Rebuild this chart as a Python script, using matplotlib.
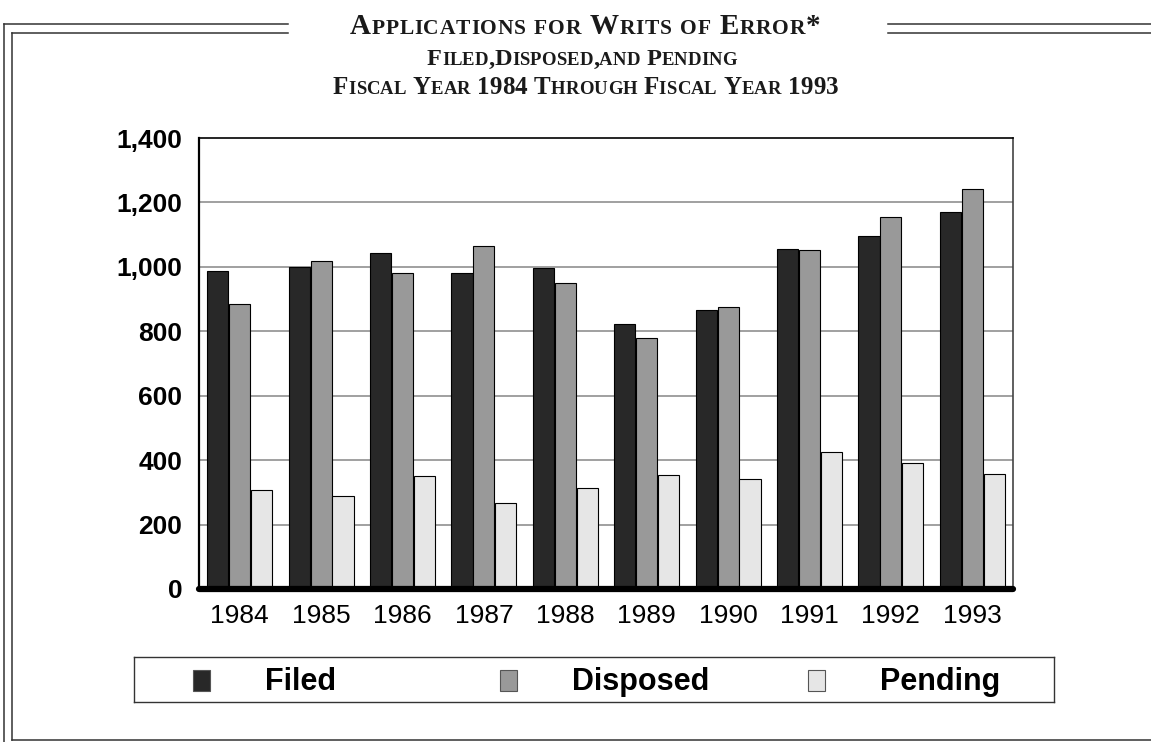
import matplotlib
matplotlib.use('Agg')
import matplotlib.pyplot as plt
import numpy as np
from matplotlib.patches import Rectangle
from matplotlib.lines import Line2D
from matplotlib import font_manager
from matplotlib.ft2font import FT2Font, LoadFlags

years = ['1984', '1985', '1986', '1987', '1988', '1989', '1990', '1991', '1992', '1993']
filed = [986, 999, 1043, 981, 997, 822, 866, 1056, 1096, 1171]
disposed = [884, 1018, 982, 1066, 950, 780, 876, 1053, 1155, 1241]
pending = [308, 288, 351, 267, 313, 353, 342, 424, 390, 356]
series_names = ['Filed', 'Disposed', 'Pending']
series_colors = ['#282828', '#999999', '#e6e6e6']
y_ticks = [0, 200, 400, 600, 800, 1000, 1200, 1400]

W, H = 1151, 742
DPI = 100
SANS = 'Liberation Sans'
SERIF = 'Liberation Serif'

serif_bold = FT2Font(font_manager.findfont(
    font_manager.FontProperties(family=SERIF, weight='bold')))


def fx(px):
    return px / W


def fy(py):
    return 1 - py / H


def advance(ch, size):
    serif_bold.set_size(size, DPI)
    g = serif_bold.load_char(ord(ch), flags=LoadFlags.NO_HINTING)
    return g.linearHoriAdvance / 65536


def smallcaps(fig, text, xc, ybase, big, small, target_w):
    # fake small caps, letter-spaced to the width of the original title line
    chars = []
    for ch in text:
        size = small if ch.islower() else big
        chars.append((ch.upper(), size, advance(ch.upper(), size)))
    natural = sum(a for _, _, a in chars)
    track = (target_w - natural) / (len(chars) - 1)
    x = xc - target_w / 2
    for ch, size, adv in chars:
        if ch != ' ':
            fig.text(fx(x), fy(ybase), ch, fontsize=size, fontweight='bold',
                     family=SERIF, va='baseline', ha='left', color='#1a1a1a')
        x += adv + track


fig = plt.figure(figsize=(W / DPI, H / DPI), dpi=DPI)

# double frame around the figure, broken by the title
frame = dict(color='#333333', lw=1.1, transform=fig.transFigure)
fig.add_artist(Line2D([fx(3.5), fx(3.5)], [fy(24.3), fy(742)], **frame))
fig.add_artist(Line2D([fx(3.5), fx(288)], [fy(24.3), fy(24.3)], **frame))
fig.add_artist(Line2D([fx(12.3), fx(12.3)], [fy(33.3), fy(740)], **frame))
fig.add_artist(Line2D([fx(12.3), fx(288)], [fy(33.3), fy(33.3)], **frame))
fig.add_artist(Line2D([fx(12.3), fx(1151)], [fy(740), fy(740)], **frame))
fig.add_artist(Line2D([fx(888), fx(1151)], [fy(24.3), fy(24.3)], **frame))
fig.add_artist(Line2D([fx(888), fx(1151)], [fy(33.3), fy(33.3)], **frame))

smallcaps(fig, 'Applications for Writs of Error*', 585, 34, 21, 15.5, 470)
smallcaps(fig, 'Filed,Disposed,and Pending', 582, 65, 17.5, 13.5, 310)
smallcaps(fig, 'Fiscal Year 1984 Through Fiscal Year 1993', 585.5, 93.5, 18, 13.5, 505)

ax = fig.add_axes([fx(199), fy(589), (1013 - 199) / W, (589 - 138) / H])
x = np.arange(len(years))
width = 0.26
step = 0.27
for i, (vals, color) in enumerate(zip([filed, disposed, pending], series_colors)):
    ax.bar(x + (i - 1) * step, vals, width, color=color, edgecolor='black',
           linewidth=0.8, zorder=3)

ax.set_xlim(-0.5, len(years) - 0.5)
ax.set_ylim(0, 1400)
ax.set_yticks(y_ticks)
ax.set_yticklabels([f'{v:,}' for v in y_ticks], fontsize=19, fontweight='bold', family=SANS)
ax.set_xticks(x)
ax.set_xticklabels(years, fontsize=19, family=SANS)
ax.tick_params(axis='y', length=0, pad=12)
ax.tick_params(axis='x', length=0, pad=11)
for v in y_ticks[1:-1]:
    ax.axhline(v, color='#999999', lw=1.3, zorder=1)

ax.spines['left'].set_linewidth(1.6)
ax.spines['left'].set_color('black')
ax.spines['top'].set_linewidth(1.2)
ax.spines['top'].set_color('black')
ax.spines['right'].set_linewidth(1.2)
ax.spines['right'].set_color('#444444')
ax.spines['bottom'].set_visible(False)
ax.plot([-0.5, len(years) - 0.5], [0, 0], color='black', lw=4.5,
        solid_capstyle='round', clip_on=False, zorder=5)

# legend box
lax = fig.add_axes([fx(134), fy(702), (1054 - 134) / W, (702 - 657) / H])
lax.set_xlim(0, 920)
lax.set_ylim(0, 45)
lax.set_xticks([])
lax.set_yticks([])
for sp in lax.spines.values():
    sp.set_color('#333333')
    sp.set_linewidth(1.0)
handle_left = [59, 366, 674]
for name, color, hx in zip(series_names, series_colors, handle_left):
    lax.add_patch(Rectangle((hx, 11), 17, 21, facecolor=color, edgecolor='#555555', lw=0.8))
    lax.text(hx + 72, 20, name, fontsize=22, fontweight='bold', family=SANS,
             va='center', ha='left')

fig.savefig('out.png', dpi=DPI)
